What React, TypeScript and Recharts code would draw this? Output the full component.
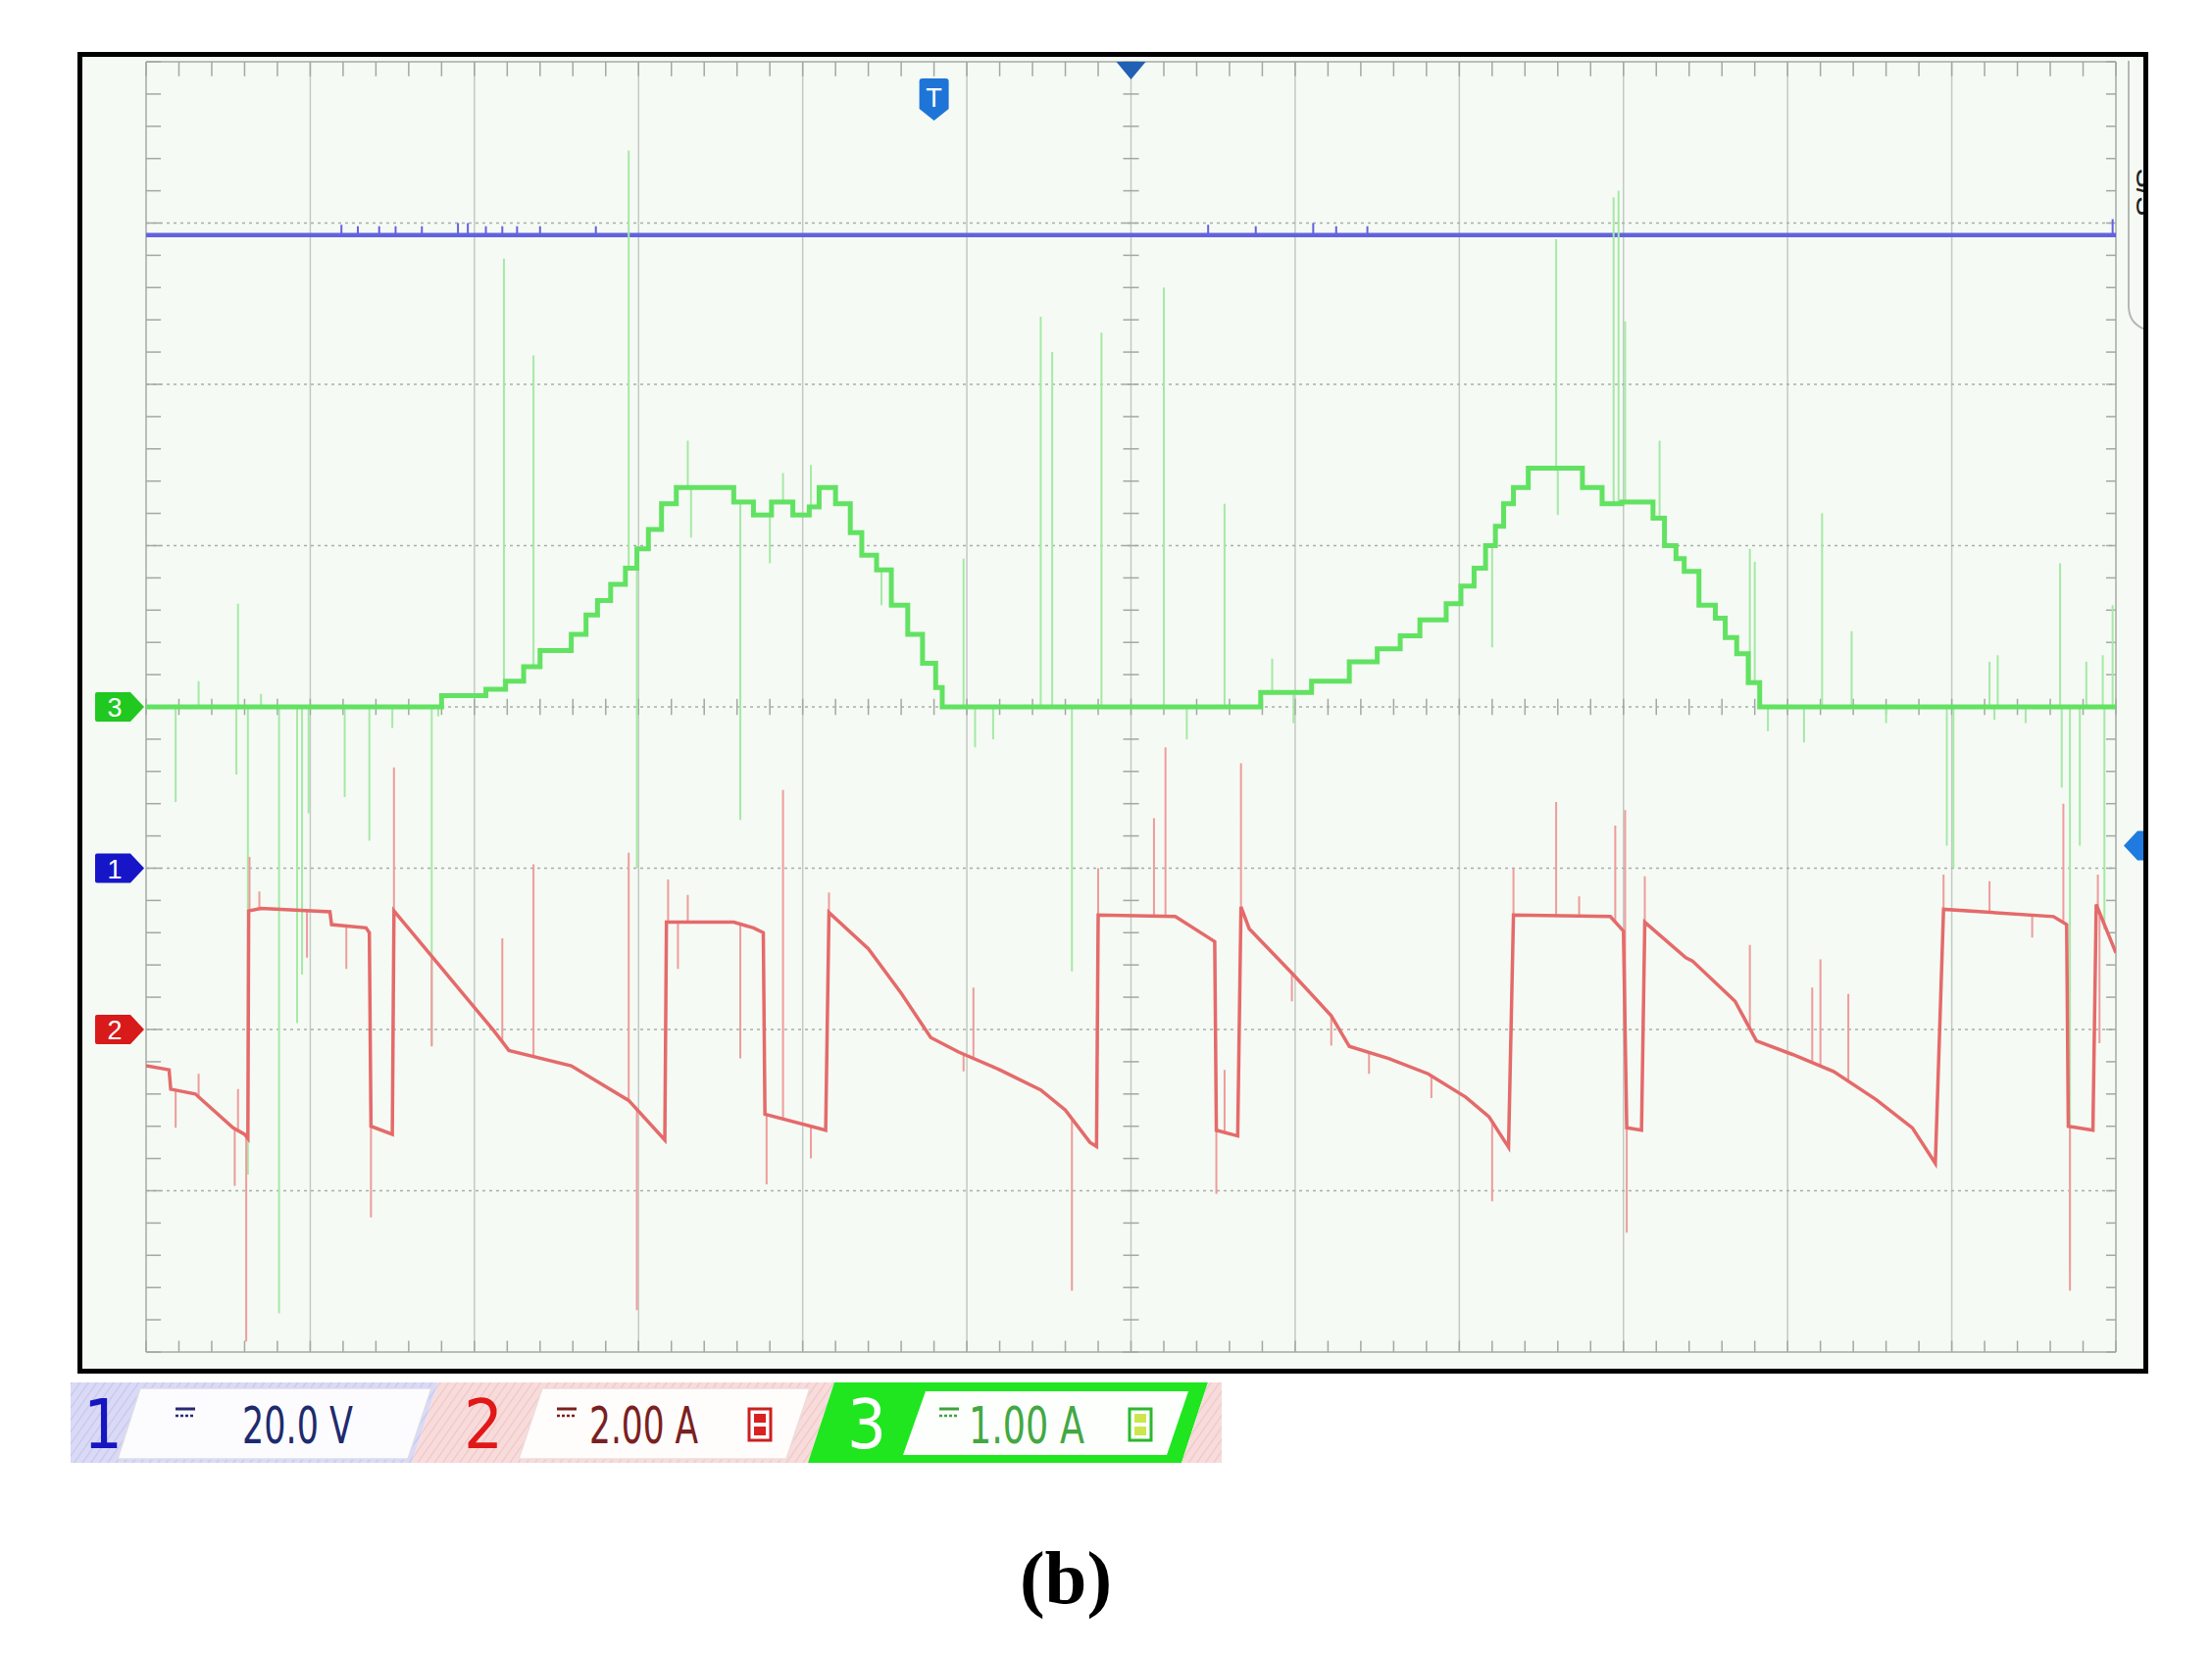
import React from "react";
import { ComposedChart, Line, XAxis, YAxis, ReferenceLine, ReferenceDot } from "recharts";

// ---------------- data (time in screen divisions, 12 div across) ----------------
const timeDivs = [0, 1, 2, 3, 4, 5, 6, 7, 8, 9, 10, 11, 12];
const vertDivs = [-4, -3, -2, -1, 0, 1, 2, 3, 4];

// Channel scales (legend) and vertical domains derived from the ground markers
const ch1Label = "20.0 V";
const ch2Label = "2.00 A";
const ch3Label = "1.00 A";
const ch1Domain = [-60, 100]; // 20 V/div, ground 3 div above bottom
const ch2Domain = [-4, 12]; // 2 A/div, ground 2 div above bottom
const ch3Domain = [-4, 4]; // 1 A/div, ground at centre

// Channel 1 (blue, V)
const ch1T = [0, 12];
const ch1V = [78.5, 78.5];
const ch1SpikeT = [1.19, 1.29, 1.42, 1.52, 1.68, 1.9, 1.96, 2.07, 2.17, 2.26, 2.4, 2.74, 6.47, 6.76, 7.11, 7.25, 7.44, 11.98];
const ch1SpikeV = [79.8, 79.6, 79.6, 79.6, 79.6, 80, 80, 79.6, 79.6, 79.6, 79.6, 79.6, 79.8, 79.6, 80, 79.6, 79.6, 80.5];

// Channel 3 (green, A) - staircase body
const ch3T = [0, 1.8, 2.07, 2.19, 2.3, 2.4, 2.59, 2.68, 2.75, 2.83, 2.92, 2.99, 3.06, 3.14, 3.23, 3.58, 3.7, 3.81, 3.94, 4.04, 4.1, 4.2, 4.29, 4.36, 4.45, 4.54, 4.64, 4.73, 4.81, 4.85, 6.79, 7.1, 7.33, 7.5, 7.64, 7.76, 7.92, 8.01, 8.09, 8.16, 8.22, 8.27, 8.33, 8.42, 8.75, 8.87, 8.99, 9.18, 9.25, 9.32, 9.37, 9.46, 9.56, 9.62, 9.69, 9.76, 9.83, 12];
const ch3V = [0, 0.07, 0.11, 0.16, 0.25, 0.35, 0.45, 0.57, 0.66, 0.76, 0.86, 0.98, 1.1, 1.26, 1.36, 1.27, 1.19, 1.27, 1.19, 1.24, 1.36, 1.26, 1.08, 0.94, 0.85, 0.63, 0.45, 0.27, 0.12, 0, 0.09, 0.16, 0.28, 0.36, 0.44, 0.54, 0.64, 0.75, 0.86, 1.0, 1.12, 1.26, 1.36, 1.48, 1.36, 1.26, 1.27, 1.17, 1.0, 0.92, 0.84, 0.63, 0.55, 0.43, 0.33, 0.15, 0, 0];
const ch3SpikeT = [0.18, 0.32, 0.55, 0.56, 0.62, 0.7, 0.81, 0.92, 0.95, 0.99, 1.21, 1.36, 1.5, 1.74, 1.78, 2.18, 2.36, 2.94, 2.99, 3.3, 3.32, 3.62, 3.8, 3.88, 4.05, 4.48, 4.98, 5.05, 5.16, 5.45, 5.52, 5.64, 5.82, 6.2, 6.34, 6.57, 6.86, 6.99, 8.2, 8.59, 8.6, 8.94, 8.97, 9.01, 9.22, 9.77, 9.8, 9.88, 10.1, 10.21, 10.39, 10.6, 10.97, 11.01, 11.23, 11.26, 11.28, 11.45, 11.66, 11.67, 11.72, 11.78, 11.82, 11.92, 11.93, 11.98];
const ch3SpikeV = [-0.59, 0.16, -0.42, 0.64, -2.9, 0.08, -3.76, -1.96, -1.66, -0.66, -0.56, -0.83, -0.13, -2.1, -0.06, 2.78, 2.18, 3.45, -1.0, 1.65, 1.05, -0.7, 0.89, 1.45, 1.5, 0.63, 0.92, -0.25, -0.2, 2.42, 2.2, -1.64, 2.32, 2.6, -0.2, 1.26, 0.3, -0.1, 0.37, 2.9, 1.19, 3.16, 3.2, 2.39, 1.65, 0.98, 0.9, -0.15, -0.22, 1.2, 0.47, -0.1, -0.86, -1.0, 0.28, -0.08, 0.32, -0.1, 0.89, -0.5, -3.5, -0.86, 0.28, 0.32, -1.38, 0.63];

// Channel 2 (red, A)
const ch2T = [0, 0.14, 0.15, 0.3, 0.53, 0.6, 0.62, 0.625, 0.7, 1.12, 1.13, 1.34, 1.36, 1.37, 1.5, 1.51, 1.6, 2.12, 2.21, 2.59, 2.94, 3.16, 3.17, 3.58, 3.7, 3.76, 3.77, 4.14, 4.16, 4.4, 4.6, 4.78, 4.95, 5.2, 5.45, 5.6, 5.75, 5.79, 5.8, 6.27, 6.51, 6.52, 6.65, 6.67, 6.72, 6.98, 7.22, 7.33, 7.57, 7.81, 8.04, 8.18, 8.3, 8.33, 8.92, 9.0, 9.02, 9.11, 9.13, 9.38, 9.42, 9.68, 9.81, 10.03, 10.28, 10.54, 10.76, 10.9, 10.95, 11.62, 11.7, 11.71, 11.86, 11.88, 11.98, 12.0];
const ch2V = [-0.45, -0.5, -0.74, -0.8, -1.22, -1.3, -1.35, 1.47, 1.5, 1.46, 1.3, 1.26, 1.2, -1.2, -1.3, 1.47, 1.25, -0.02, -0.26, -0.45, -0.88, -1.37, 1.33, 1.33, 1.26, 1.2, -1.05, -1.25, 1.45, 1.0, 0.45, -0.1, -0.28, -0.5, -0.75, -1.0, -1.4, -1.45, 1.42, 1.4, 1.09, -1.25, -1.32, 1.52, 1.25, 0.7, 0.17, -0.21, -0.36, -0.55, -0.84, -1.08, -1.46, 1.42, 1.4, 1.22, -1.22, -1.25, 1.33, 0.89, 0.85, 0.35, -0.14, -0.31, -0.52, -0.87, -1.22, -1.66, 1.49, 1.4, 1.3, -1.2, -1.25, 1.55, 1.05, 0.95];
const ch2SpikeT = [0.18, 0.32, 0.54, 0.56, 0.61, 0.63, 0.69, 0.98, 1.22, 1.37, 1.51, 1.74, 2.17, 2.36, 2.94, 2.99, 3.18, 3.24, 3.3, 3.62, 3.78, 3.88, 4.05, 4.16, 4.98, 5.04, 5.64, 5.8, 6.14, 6.21, 6.52, 6.57, 6.67, 6.98, 7.22, 7.45, 7.83, 8.2, 8.33, 8.59, 8.73, 8.95, 9.01, 9.02, 9.13, 9.77, 10.15, 10.2, 10.37, 10.95, 11.23, 11.49, 11.68, 11.72, 11.89, 11.9];
const ch2SpikeV = [-1.22, -0.55, -1.94, -0.74, -3.87, 2.14, 1.71, 0.89, 0.75, -2.33, 3.25, -0.21, 1.13, 2.05, 2.19, -3.48, 1.86, 0.75, 1.67, -0.36, -1.92, 2.97, -1.6, 1.7, -0.52, 0.52, -3.24, 2.0, 2.62, 3.5, -2.04, -0.5, 3.3, 0.35, -0.2, -0.55, -0.85, -2.13, 2.0, 2.82, 1.65, 2.53, 2.72, -2.52, 1.9, 1.05, 0.52, 0.87, 0.44, 1.92, 1.84, 1.14, 2.8, -3.24, 1.92, -0.17];

// marker positions (in divisions / channel units)
const triggerT = 4.8;
const triggerLevelDiv = -0.86;

// ---------------- helpers ----------------
type Pt = { t: number; v: number | null };
const toPts = (ts: number[], vs: number[]): Pt[] => ts.map((t, i) => ({ t, v: vs[i] }));

function valueAt(ts: number[], vs: number[], at: number, step: boolean): number {
  for (let i = ts.length - 1; i >= 0; i--) {
    if (ts[i] <= at) {
      if (step || i === ts.length - 1) return vs[i];
      const t0 = ts[i];
      const t1 = ts[i + 1];
      if (t1 === t0) return vs[i + 1];
      return vs[i] + ((vs[i + 1] - vs[i]) * (at - t0)) / (t1 - t0);
    }
  }
  return vs[0];
}

function spikes(st: number[], sv: number[], bt: number[], bv: number[], step: boolean): Pt[] {
  const out: Pt[] = [];
  st.forEach((t, i) => {
    out.push({ t, v: valueAt(bt, bv, t, step) }, { t, v: sv[i] }, { t, v: null });
  });
  return out;
}

const ch1Data = toPts(ch1T, ch1V);
const ch1Spikes = spikes(ch1SpikeT, ch1SpikeV, ch1T, ch1V, false);
const ch2Data = toPts(ch2T, ch2V);
const ch2Spikes = spikes(ch2SpikeT, ch2SpikeV, ch2T, ch2V, false);
const ch3Data = toPts(ch3T, ch3V);
const ch3Spikes = spikes(ch3SpikeT, ch3SpikeV, ch3T, ch3V, true);

const minorX = Array.from({ length: 61 }, (_, i) => Math.round(i * 20) / 100);
const minorY = Array.from({ length: 41 }, (_, i) => Math.round((-4 + i * 0.2) * 100) / 100);

// ---------------- colours ----------------
const BG = "#f5faf4";
const BLUE = "#6262e0";
const GREEN = "#62e262";
const GREEN_SPIKE = "#a6e9a6";
const RED = "#e56a6a";
const RED_SPIKE = "#ee9c9c";
const GRID = "#c4c9c4";
const GRID_DOT = "#a9aea9";
const TICK = "#a3a8a3";

const narrow = "'Liberation Sans Narrow', 'DejaVu Sans Condensed', 'Liberation Sans', Arial, sans-serif";

// ---------------- marker shapes ----------------
const ChannelTag = (props: any) => {
  const { cx, cy, fill, label } = props;
  return (
    <g>
      <path
        d={`M${cx - 52},${cy - 13} Q${cx - 52},${cy - 15} ${cx - 50},${cy - 15} L${cx - 16},${cy - 15} L${cx - 2},${cy} L${cx - 16},${cy + 15} L${cx - 50},${cy + 15} Q${cx - 52},${cy + 15} ${cx - 52},${cy + 13} Z`}
        fill={fill}
      />
      <text x={cx - 32} y={cy + 10} textAnchor="middle" fill="#ffffff" fontSize={27} fontFamily="'Liberation Sans', Arial, sans-serif">
        {label}
      </text>
    </g>
  );
};

const TriggerT = (props: any) => {
  const { cx, cy } = props;
  return (
    <g>
      <path
        d={`M${cx - 15},${cy + 20} Q${cx - 15},${cy + 17} ${cx - 12},${cy + 17} L${cx + 12},${cy + 17} Q${cx + 15},${cy + 17} ${cx + 15},${cy + 20} L${cx + 15},${cy + 48} L${cx},${cy + 60} L${cx - 15},${cy + 48} Z`}
        fill="#1f74d8"
      />
      <text x={cx} y={cy + 46} textAnchor="middle" fill="#ffffff" fontSize={27} fontFamily="'Liberation Sans', Arial, sans-serif">
        T
      </text>
    </g>
  );
};

const TopTriangle = (props: any) => {
  const { cx, cy } = props;
  return <path d={`M${cx - 15},${cy} L${cx + 15},${cy} L${cx},${cy + 18} Z`} fill="#2160b4" />;
};

const RightLevel = (props: any) => {
  const { cx, cy } = props;
  return <path d={`M${cx + 8},${cy} L${cx + 22},${cy - 15} L${cx + 32},${cy - 15} L${cx + 32},${cy + 15} L${cx + 22},${cy + 15} Z`} fill="#1f7be0" />;
};

// DC coupling symbol
const DcSymbol = ({ x, y, color }: { x: number; y: number; color: string }) => (
  <g>
    <line x1={x} y1={y} x2={x + 20} y2={y} stroke={color} strokeWidth={3} />
    <line x1={x} y1={y + 7} x2={x + 20} y2={y + 7} stroke={color} strokeWidth={2.5} strokeDasharray="3 2" />
  </g>
);

const BIcon = ({ x, y, outline, inner }: { x: number; y: number; outline: string; inner: string }) => (
  <g>
    <rect x={x} y={y} width={22} height={32} fill="#ffffff" stroke={outline} strokeWidth={3} />
    <rect x={x + 5} y={y + 5} width={12} height={9} fill={inner} />
    <rect x={x + 5} y={y + 18} width={12} height={9} fill={inner} />
  </g>
);

export default function App() {
  return (
    <div style={{ position: "absolute", left: 0, top: 0, width: 2256, height: 1688, background: "#ffffff", overflow: "hidden" }}>
      <svg width={2256} height={1688} style={{ position: "absolute", left: 0, top: 0 }}>
        <rect x={81.5} y={55.5} width={2107} height={1343} fill={BG} />
      </svg>

      <div style={{ position: "absolute", left: 0, top: 0 }}>
        <ComposedChart width={2256} height={1688} margin={{ top: 63, left: 149, right: 98, bottom: 309 }}>
          <XAxis dataKey="t" type="number" domain={[0, 12]} allowDataOverflow hide />
          <YAxis yAxisId="grid" type="number" domain={[-4, 4]} allowDataOverflow hide />
          <YAxis yAxisId="ch1" type="number" domain={ch1Domain} allowDataOverflow hide />
          <YAxis yAxisId="ch2" type="number" domain={ch2Domain} allowDataOverflow hide />
          <YAxis yAxisId="ch3" type="number" domain={ch3Domain} allowDataOverflow hide />

          {/* grid */}
          {timeDivs.map((k) => (
            <ReferenceLine key={`vx${k}`} x={k} yAxisId="grid" stroke={k === 0 || k === 12 ? "#b9beb9" : GRID} strokeWidth={k === 0 || k === 12 ? 2 : 1.5} />
          ))}
          {vertDivs.map((k) => (
            <ReferenceLine
              key={`hy${k}`}
              y={k}
              yAxisId="grid"
              stroke={k === -4 || k === 4 ? "#b9beb9" : GRID_DOT}
              strokeWidth={k === -4 || k === 4 ? 2 : 1.5}
              strokeDasharray={k === -4 || k === 4 ? undefined : "3 4"}
            />
          ))}
          {/* minor ticks along edges and centre lines */}
          {minorX.map((x) => (
            <ReferenceLine key={`tt${x}`} yAxisId="grid" segment={[{ x, y: 4 }, { x, y: 3.91 }]} stroke={TICK} strokeWidth={1.5} />
          ))}
          {minorX.map((x) => (
            <ReferenceLine key={`tb${x}`} yAxisId="grid" segment={[{ x, y: -4 }, { x, y: -3.93 }]} stroke={TICK} strokeWidth={1.5} />
          ))}
          {minorX.map((x) => (
            <ReferenceLine key={`tc${x}`} yAxisId="grid" segment={[{ x, y: -0.05 }, { x, y: 0.05 }]} stroke={TICK} strokeWidth={1.5} />
          ))}
          {minorY.map((y) => (
            <ReferenceLine key={`tl${y}`} yAxisId="grid" segment={[{ x: 0, y }, { x: 0.09, y }]} stroke={TICK} strokeWidth={1.5} />
          ))}
          {minorY.map((y) => (
            <ReferenceLine key={`tr${y}`} yAxisId="grid" segment={[{ x: 12, y }, { x: 11.94, y }]} stroke={TICK} strokeWidth={1.5} />
          ))}
          {minorY.map((y) => (
            <ReferenceLine key={`tv${y}`} yAxisId="grid" segment={[{ x: 5.952, y }, { x: 6.048, y }]} stroke={TICK} strokeWidth={1.5} />
          ))}

          {/* traces */}
          <Line data={ch1Spikes} dataKey="v" yAxisId="ch1" type="linear" stroke={BLUE} strokeWidth={2} dot={false} activeDot={false} isAnimationActive={false} connectNulls={false} />
          <Line data={ch1Data} dataKey="v" yAxisId="ch1" type="linear" stroke={BLUE} strokeWidth={4.5} dot={false} activeDot={false} isAnimationActive={false} />
          <Line data={ch3Spikes} dataKey="v" yAxisId="ch3" type="linear" stroke={GREEN_SPIKE} strokeWidth={2} dot={false} activeDot={false} isAnimationActive={false} connectNulls={false} />
          <Line data={ch3Data} dataKey="v" yAxisId="ch3" type="stepAfter" stroke={GREEN} strokeWidth={5} dot={false} activeDot={false} isAnimationActive={false} />
          <Line data={ch2Spikes} dataKey="v" yAxisId="ch2" type="linear" stroke={RED_SPIKE} strokeWidth={2} dot={false} activeDot={false} isAnimationActive={false} connectNulls={false} />
          <Line data={ch2Data} dataKey="v" yAxisId="ch2" type="linear" stroke={RED} strokeWidth={3.5} dot={false} activeDot={false} isAnimationActive={false} />

          {/* channel ground markers and trigger markers */}
          <ReferenceDot x={0} y={0} yAxisId="ch3" r={0} ifOverflow="visible" shape={(p: any) => <ChannelTag cx={p.cx} cy={p.cy} fill="#20c820" label="3" />} />
          <ReferenceDot x={0} y={0} yAxisId="ch1" r={0} ifOverflow="visible" shape={(p: any) => <ChannelTag cx={p.cx} cy={p.cy} fill="#1616c8" label="1" />} />
          <ReferenceDot x={0} y={0} yAxisId="ch2" r={0} ifOverflow="visible" shape={(p: any) => <ChannelTag cx={p.cx} cy={p.cy} fill="#d81a1a" label="2" />} />
          <ReferenceDot x={triggerT} y={4} yAxisId="grid" r={0} ifOverflow="visible" shape={(p: any) => <TriggerT cx={p.cx} cy={p.cy} />} />
          <ReferenceDot x={6} y={4} yAxisId="grid" r={0} ifOverflow="visible" shape={(p: any) => <TopTriangle cx={p.cx} cy={p.cy} />} />
          <ReferenceDot x={12} y={triggerLevelDiv} yAxisId="grid" r={0} ifOverflow="visible" shape={(p: any) => <RightLevel cx={p.cx} cy={p.cy} />} />
        </ComposedChart>
      </div>

      <svg width={2256} height={1688} style={{ position: "absolute", left: 0, top: 0, pointerEvents: "none" }}>
        <defs>
          <clipPath id="frameClip">
            <rect x={84} y={58} width={2102} height={1338} />
          </clipPath>
          <pattern id="hatchBlue" width="7" height="7" patternUnits="userSpaceOnUse" patternTransform="rotate(35)">
            <rect width="7" height="7" fill="#dadaf6" />
            <line x1="0" y1="0" x2="0" y2="7" stroke="#c6c6ee" strokeWidth="2.5" />
          </pattern>
          <pattern id="hatchPink" width="7" height="7" patternUnits="userSpaceOnUse" patternTransform="rotate(35)">
            <rect width="7" height="7" fill="#f8dcdc" />
            <line x1="0" y1="0" x2="0" y2="7" stroke="#f0c6c6" strokeWidth="2.5" />
          </pattern>
        </defs>

        {/* side tab partly hidden behind the frame */}
        <g clipPath="url(#frameClip)">
          <path d="M2171,62 L2171,312 Q2171,330 2188,336" fill="none" stroke="#b4b8b4" strokeWidth={2} />
          <text transform="translate(2179,196) rotate(90)" textAnchor="middle" fontSize={30} fill="#222222" fontFamily="'Liberation Sans', Arial, sans-serif">
            S/S
          </text>
        </g>

        {/* frame */}
        <rect x={81.5} y={55.5} width={2107} height={1343} fill="none" stroke="#000000" strokeWidth={5} />

        {/* channel status bar */}
        <polygon points="72,1410 447,1410 420,1492 72,1492" fill="url(#hatchBlue)" />
        <polygon points="447,1410 851,1410 824,1492 420,1492" fill="url(#hatchPink)" />
        <polygon points="851,1410 1232,1410 1205,1492 824,1492" fill="#1fe61f" />
        <polygon points="1232,1410 1246,1410 1246,1492 1205,1492" fill="url(#hatchPink)" />

        <polygon points="143,1416 440,1416 416,1488 120,1488" fill="#fcfcff" stroke="#dcdce8" strokeWidth={1.5} />
        <polygon points="553,1416 826,1416 802,1488 529,1488" fill="#fffcfc" stroke="#ecdcdc" strokeWidth={1.5} />
        <polygon points="944,1419 1212,1419 1190,1484 921,1484" fill="#fdfffd" />

        <text x={105} y={1477} textAnchor="middle" fontSize={70} fill="#1616c0" fontFamily={narrow}>1</text>
        <text x={493} y={1477} textAnchor="middle" fontSize={70} fill="#e01818" fontFamily={narrow}>2</text>
        <text x={884} y={1477} textAnchor="middle" fontSize={70} fill="#ffffff" fontFamily={narrow}>3</text>

        <DcSymbol x={179} y={1437} color="#2a2a70" />
        <text x={247} y={1472} fontSize={52} fill="#1f2a6e" fontFamily={narrow} textLength={113} lengthAdjust="spacingAndGlyphs">{ch1Label}</text>

        <DcSymbol x={568} y={1437} color="#7a2020" />
        <text x={601} y={1472} fontSize={52} fill="#7a2020" fontFamily={narrow} textLength={111} lengthAdjust="spacingAndGlyphs">{ch2Label}</text>
        <BIcon x={764} y={1437} outline="#cc2020" inner="#d82222" />

        <DcSymbol x={958} y={1437} color="#3fa33f" />
        <text x={988} y={1472} fontSize={52} fill="#43a843" fontFamily={narrow} textLength={118} lengthAdjust="spacingAndGlyphs">{ch3Label}</text>
        <BIcon x={1152} y={1437} outline="#2db82d" inner="#cde64e" />

        {/* caption */}
        <text x={1087} y={1635} textAnchor="middle" fontSize={77} fontWeight="bold" fill="#000000" fontFamily="'Liberation Serif', 'Times New Roman', serif">
          (b)
        </text>
      </svg>
    </div>
  );
}
